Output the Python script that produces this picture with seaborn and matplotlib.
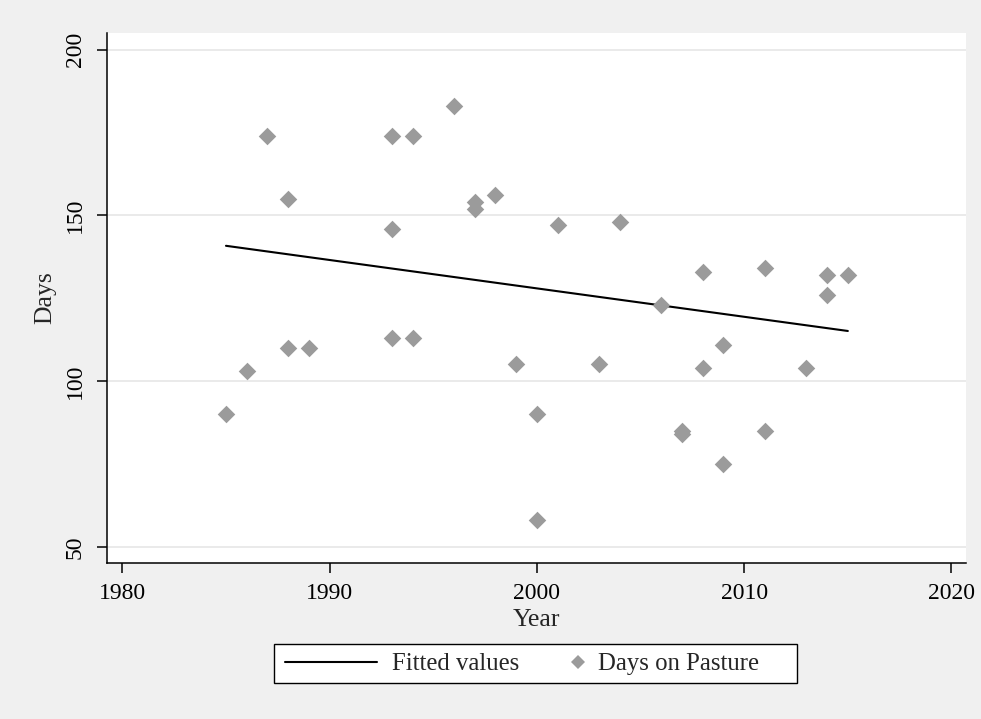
import numpy as np
import pandas as pd
import matplotlib
matplotlib.use("Agg")
import matplotlib.pyplot as plt
import seaborn as sns
from matplotlib.lines import Line2D
from matplotlib.patches import Rectangle

# ---- data ----
years = [1985, 1986, 1987, 1988, 1988, 1989, 1993, 1993, 1993, 1994, 1994,
         1996, 1997, 1997, 1998, 1999, 2000, 2000, 2001, 2003, 2004, 2006,
         2007, 2007, 2008, 2008, 2009, 2009, 2011, 2011, 2013, 2014, 2014, 2015]
days = [90, 103, 174, 155, 110, 110, 174, 146, 113, 174, 113,
        183, 154, 152, 156, 105, 90, 58, 147, 105, 148, 123,
        85, 84, 133, 104, 111, 75, 134, 85, 104, 132, 126, 132]
fit_years = [1985, 2015]
fit_values = [140.8, 115.1]
x_ticks = [1980, 1990, 2000, 2010, 2020]
y_ticks = [50, 100, 150, 200]

df = pd.DataFrame({"Year": years, "Days": days})
fit = pd.DataFrame({"Year": fit_years, "Fitted": fit_values})

sns.set_style("white")
plt.rcParams["font.family"] = ["Liberation Serif", "DejaVu Serif"]

BG = "#f0f0f0"
MK = "#9b9b9b"
W, H = 981, 719

fig = plt.figure(figsize=(W / 100, H / 100), dpi=100, facecolor=BG)
ax = fig.add_axes([107 / W, 1 - 563 / H, (966 - 107) / W, (563 - 33) / H])
ax.set_facecolor("white")

sns.lineplot(data=fit, x="Year", y="Fitted", ax=ax, color="black", lw=1.5,
             legend=False, zorder=3)
sns.scatterplot(data=df, x="Year", y="Days", ax=ax, marker="D", s=80,
                color=MK, linewidth=0, legend=False, zorder=4)

ax.set_xlim(1979.26, 2020.7)
ax.set_ylim(45.1, 205.0)
ax.set_xticks(x_ticks)
ax.set_yticks(y_ticks)
ax.yaxis.grid(True, color="#e6e6e6", lw=1.2)
ax.xaxis.grid(False)
ax.set_axisbelow(True)

for s in ["top", "right"]:
    ax.spines[s].set_visible(False)
for s in ["left", "bottom"]:
    ax.spines[s].set_color("black")
    ax.spines[s].set_linewidth(1.1)

ax.tick_params(axis="both", which="major", direction="out", length=7.2,
               width=1.1, color="black", labelsize=17, labelcolor="black",
               left=True, bottom=True)
ax.tick_params(axis="x", pad=7)
ax.tick_params(axis="y", pad=8)
for lab in ax.get_yticklabels():
    lab.set_rotation(90)
    lab.set_va("center")

ax.set_xlabel("Year", fontsize=18.5, labelpad=3.5)
ax.set_ylabel("Days", fontsize=18.5, labelpad=6)

# legend frame
fig.add_artist(Rectangle((274 / W, 1 - 683 / H), (797 - 274) / W, (683 - 644) / H,
                         transform=fig.transFigure, facecolor="white",
                         edgecolor="black", lw=1.0, zorder=1))

LFS = 17.8
yc = 1 - 664 / H
leg1 = fig.legend([Line2D([0], [0], color="black", lw=1.5)], ["Fitted values"],
                  loc="center left", bbox_to_anchor=(285 / W, yc),
                  fontsize=LFS, frameon=False, handlelength=3.72,
                  handletextpad=0.62, borderpad=0, borderaxespad=0)
leg2 = fig.legend([Line2D([0], [0], marker="D", color=MK, lw=0, markersize=7,
                          markeredgewidth=0)], ["Days on Pasture"],
                  loc="center left", bbox_to_anchor=(568 / W, yc),
                  fontsize=LFS, frameon=False, handlelength=0.8,
                  handletextpad=0.4, borderpad=0, borderaxespad=0)
leg1.set_zorder(5)
leg2.set_zorder(5)

fig.savefig("out.png", dpi=100, facecolor=BG)
